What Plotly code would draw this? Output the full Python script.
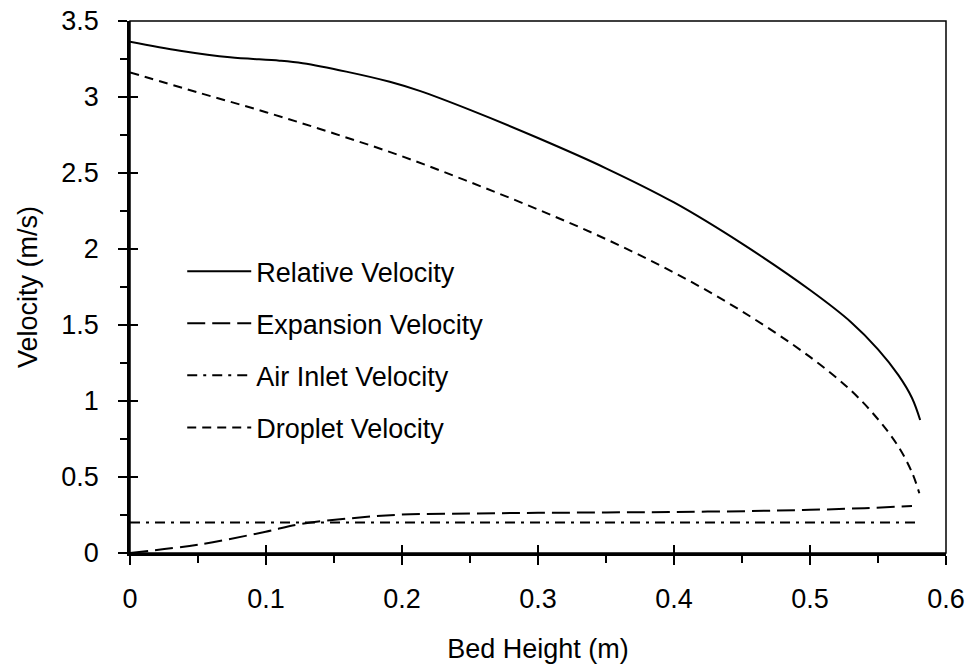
import plotly.graph_objects as go

# ---- data ----
x_rel = [0, 0.0368, 0.0735, 0.110, 0.127, 0.159, 0.191, 0.213, 0.25, 0.30, 0.35,
         0.40, 0.45, 0.50, 0.53, 0.55, 0.565, 0.575, 0.581]
v_rel = [3.364, 3.305, 3.261, 3.239, 3.222, 3.167, 3.10, 3.04, 2.915, 2.73, 2.531,
         2.306, 2.035, 1.73, 1.52, 1.34, 1.17, 1.02, 0.875]

x_exp = [0, 0.0515, 0.0998, 0.125, 0.162, 0.1985, 0.25, 0.3, 0.35, 0.4, 0.456,
         0.5, 0.54, 0.575]
v_exp = [0.0, 0.057, 0.14, 0.19, 0.228, 0.252, 0.26, 0.264, 0.267, 0.27, 0.276,
         0.284, 0.295, 0.309]

x_air = [0, 0.578]
v_air = [0.2, 0.2]

x_drop = [0, 0.05, 0.10, 0.15, 0.20, 0.25, 0.30, 0.35, 0.40, 0.45, 0.50, 0.53,
          0.55, 0.565, 0.575, 0.5804]
v_drop = [3.162, 3.03, 2.90, 2.76, 2.61, 2.44, 2.26, 2.065, 1.845, 1.59, 1.29, 1.07,
          0.88, 0.70, 0.53, 0.393]

names = ["Relative Velocity", "Expansion Velocity", "Air Inlet Velocity", "Droplet Velocity"]
x_ticks = [0, 0.1, 0.2, 0.3, 0.4, 0.5, 0.6]
y_ticks = [0, 0.5, 1, 1.5, 2, 2.5, 3, 3.5]

FONT = "Liberation Sans, Arial, sans-serif"
FS = 27

fig = go.Figure()
fig.add_trace(go.Scatter(x=x_rel, y=v_rel, name=names[0], mode="lines",
                         line=dict(color="black", width=2, shape="spline", smoothing=1),
                         legendgroup="a"))
fig.add_trace(go.Scatter(x=x_exp, y=v_exp, name=names[1], mode="lines",
                         line=dict(color="black", width=2, dash="18px,7px", shape="spline", smoothing=1),
                         legendgroup="b"))
fig.add_trace(go.Scatter(x=x_air, y=v_air, name=names[2], mode="lines",
                         line=dict(color="black", width=2, dash="10px,6px,3px,6px"),
                         legendgroup="c"))
fig.add_trace(go.Scatter(x=x_drop, y=v_drop, name=names[3], mode="lines",
                         line=dict(color="black", width=2, dash="9px,6px", shape="spline", smoothing=1),
                         legendgroup="d"))
# invisible trace to carry the inner tick marks (crossing ticks)
fig.add_trace(go.Scatter(x=[0], y=[0], xaxis="x2", yaxis="y2", mode="none",
                         showlegend=False, hoverinfo="skip"))

axis_common = dict(showgrid=False, zeroline=False, color="black", automargin=False,
                   tickfont=dict(family=FONT, size=FS, color="black"))

fig.update_layout(
    width=970, height=668,
    margin=dict(l=130, r=24, t=21, b=115, autoexpand=False),
    paper_bgcolor="white", plot_bgcolor="white",
    font=dict(family=FONT, size=FS, color="black"),
    xaxis=dict(range=[0, 0.6], tickvals=x_ticks, ticktext=[f"{v:g}" for v in x_ticks],
               ticks="outside", ticklen=9, tickwidth=2, tickcolor="black",
               minor=dict(dtick=0.05, ticks="outside", ticklen=7, tickwidth=2, tickcolor="black"),
               showline=True, linewidth=2.5, linecolor="black",
               title=dict(text="Bed Height (m)", font=dict(family=FONT, size=FS), standoff=26),
               ticklabelstandoff=11,
               **axis_common),
    yaxis=dict(range=[0, 3.5], tickvals=y_ticks, ticktext=[f"{v:g}" for v in y_ticks],
               ticks="outside", ticklen=9, tickwidth=2, tickcolor="black",
               minor=dict(dtick=0.25, ticks="outside", ticklen=7, tickwidth=2, tickcolor="black"),
               showline=True, linewidth=2.5, linecolor="black",
               title=dict(text="Velocity (m/s)", font=dict(family=FONT, size=FS), standoff=16),
               ticklabelstandoff=14,
               **axis_common),
    xaxis2=dict(range=[0, 0.6], overlaying="x", side="bottom", tickvals=x_ticks,
                showticklabels=False, ticks="inside", ticklen=8, tickwidth=2,
                tickcolor="black", showgrid=False, zeroline=False, showline=False,
                automargin=False),
    yaxis2=dict(range=[0, 3.5], overlaying="y", side="left", tickvals=y_ticks,
                showticklabels=False, ticks="inside", ticklen=8, tickwidth=2,
                tickcolor="black", showgrid=False, zeroline=False, showline=False,
                automargin=False),
    legend=dict(x=0.064, y=0.575, xanchor="left", yanchor="top",
                bgcolor="rgba(0,0,0,0)", font=dict(family=FONT, size=FS),
                tracegroupgap=14, itemwidth=64),
    shapes=[dict(type="rect", xref="paper", yref="paper", x0=0, y0=0, x1=1, y1=1,
                 line=dict(color="black", width=1.5), layer="below")],
)

fig.write_html("out.html")
